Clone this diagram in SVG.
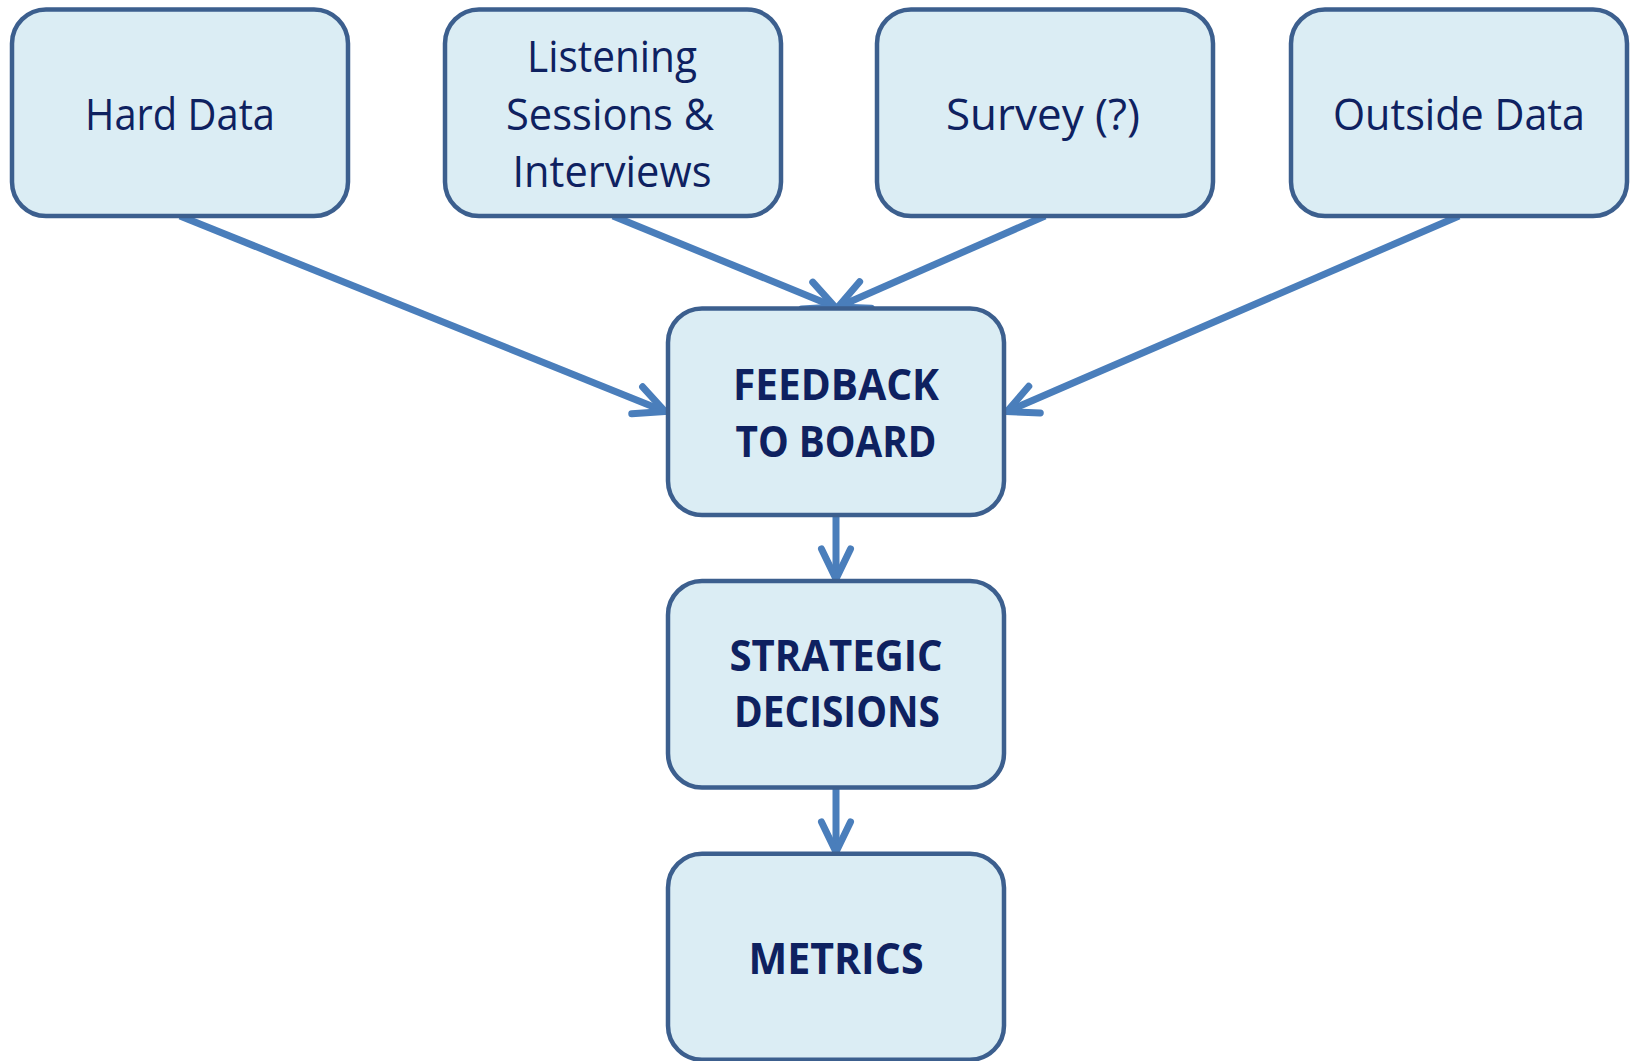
<svg xmlns="http://www.w3.org/2000/svg" width="1632" height="1061" viewBox="0 0 1632 1061">
<style>
.box{fill:#DBEDF4;stroke:#3C5F8E;stroke-width:4.5}
.t{font-family:"Open Sans","Noto Sans","Liberation Sans",sans-serif;font-size:43px;fill:#0E2160;text-anchor:middle}
.b{font-weight:bold}
.conn{stroke:#4A7EBB;stroke-width:7;fill:none;stroke-linecap:butt}
.ah{stroke:#4A7EBB;stroke-width:7;fill:none;stroke-linecap:round;stroke-linejoin:miter}
</style>
<defs>
<marker id="arrow" markerUnits="userSpaceOnUse" orient="auto" refX="0" refY="0" markerWidth="80" markerHeight="80" viewBox="-40 -40 80 80" overflow="visible">
<path class="ah" d="M-30,-14.5 L0,0 L-30,14.5"/>
</marker>
</defs>
<rect width="1632" height="1061" fill="#FFFFFF"/>
<g id="connectors">
<line class="conn" x1="180" y1="216" x2="665" y2="411.5" marker-end="url(#arrow)"/>
<line class="conn" x1="613" y1="216" x2="835" y2="307" marker-end="url(#arrow)"/>
<line class="conn" x1="1045" y1="216" x2="838" y2="307" marker-end="url(#arrow)"/>
<line class="conn" x1="1459" y1="216" x2="1007" y2="411.5" marker-end="url(#arrow)"/>
<line class="conn" x1="836" y1="516" x2="836" y2="579" marker-end="url(#arrow)"/>
<line class="conn" x1="836" y1="789" x2="836" y2="852" marker-end="url(#arrow)"/>
</g>
<g id="hard-data">
<rect class="box" x="12" y="9.5" width="336" height="206.5" rx="34"/>
<text class="t" x="180" y="129.5" textLength="190" lengthAdjust="spacingAndGlyphs">Hard Data</text>
</g>
<g id="listening">
<rect class="box" x="445" y="9.5" width="336" height="206.5" rx="34"/>
<text class="t" x="612" y="71.5" textLength="170" lengthAdjust="spacingAndGlyphs">Listening</text>
<text class="t" x="610" y="129.5" textLength="208" lengthAdjust="spacingAndGlyphs">Sessions &amp;</text>
<text class="t" x="612" y="187" textLength="199" lengthAdjust="spacingAndGlyphs">Interviews</text>
</g>
<g id="survey">
<rect class="box" x="877" y="9.5" width="336" height="206.5" rx="34"/>
<text class="t" x="1043" y="129.5" textLength="194" lengthAdjust="spacingAndGlyphs">Survey (?)</text>
</g>
<g id="outside-data">
<rect class="box" x="1291" y="9.5" width="336" height="206.5" rx="34"/>
<text class="t" x="1459" y="129.5" textLength="252" lengthAdjust="spacingAndGlyphs">Outside Data</text>
</g>
<g id="feedback">
<rect class="box" x="668" y="308.5" width="336" height="206.5" rx="34"/>
<text class="t b" x="836" y="400" textLength="206" lengthAdjust="spacingAndGlyphs">FEEDBACK</text>
<text class="t b" x="836" y="457" textLength="201" lengthAdjust="spacingAndGlyphs">TO BOARD</text>
</g>
<g id="strategic">
<rect class="box" x="668" y="581" width="336" height="206.5" rx="34"/>
<text class="t b" x="836" y="671" textLength="213" lengthAdjust="spacingAndGlyphs">STRATEGIC</text>
<text class="t b" x="837" y="727" textLength="206" lengthAdjust="spacingAndGlyphs">DECISIONS</text>
</g>
<g id="metrics">
<rect class="box" x="668" y="853.7" width="336" height="206" rx="34"/>
<text class="t b" x="836" y="974" textLength="175" lengthAdjust="spacingAndGlyphs">METRICS</text>
</g>
</svg>
